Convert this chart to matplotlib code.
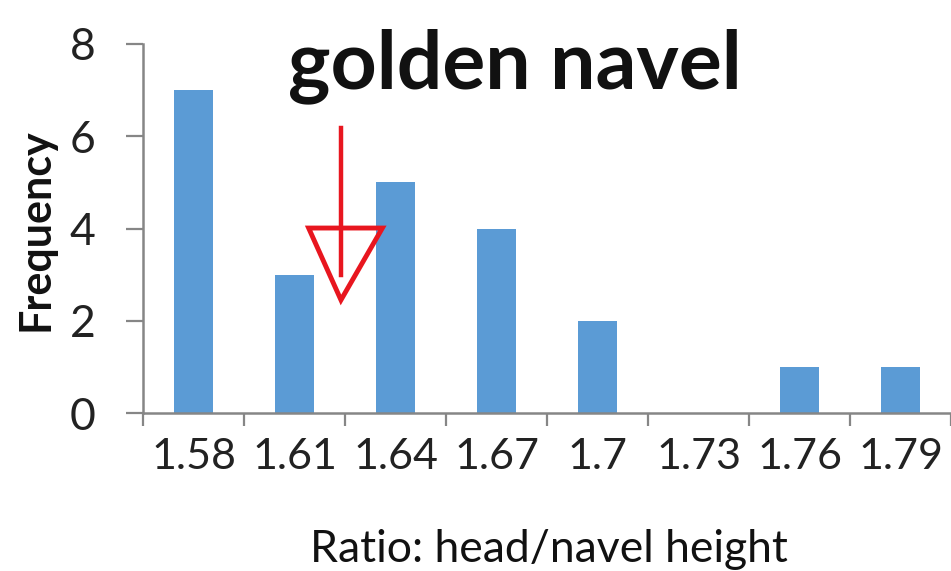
import matplotlib
matplotlib.use("Agg")
import matplotlib.pyplot as plt
from matplotlib.patches import Polygon
import numpy as np

categories = ["1.58", "1.61", "1.64", "1.67", "1.7", "1.73", "1.76", "1.79"]
frequency = [7, 3, 5, 4, 2, 0, 1, 1]
y_ticks = [0, 2, 4, 6, 8]

W, H = 951, 571
fig = plt.figure(figsize=(W / 100, H / 100), dpi=100)
plt.rcParams['font.family'] = ['Lato', 'DejaVu Sans']

left, right, bottom, top = 143 / W, 1.0, 1 - 413 / H, 1 - 44 / H
ax = fig.add_axes([left, bottom, right - left, top - bottom])
slot = 102
x = np.arange(len(categories))
ax.bar(x, frequency, width=0.39, color="#5B9BD5", zorder=2)
ax.set_xlim(-0.5, -0.5 + (W - 143) / slot)
ax.set_ylim(0, 8)

for s in ["top", "right"]:
    ax.spines[s].set_visible(False)
for s in ["left", "bottom"]:
    ax.spines[s].set_color("#868686")
    ax.spines[s].set_linewidth(1.8)

ax.set_yticks(y_ticks)
ax.set_yticklabels([str(v) for v in y_ticks])
ax.tick_params(axis="y", length=12, width=1.6, color="#868686", pad=22,
               labelsize=32, labelcolor="#222222")
ax.set_xticks(x)
ax.set_xticklabels(categories)
ax.set_xticks(np.arange(len(categories) + 1) - 0.5, minor=True)
ax.tick_params(axis="x", which="major", length=0, pad=18, labelsize=31,
               labelcolor="#222222")
ax.tick_params(axis="x", which="minor", length=9, width=1.6, color="#868686")

fig.text(36 / W, 1 - 230 / H, "Frequency", rotation=90, ha="center", va="center",
         fontsize=31, fontweight="bold", color="#111111")
fig.text(549 / W, 1 - 549 / H, "Ratio: head/navel height", ha="center", va="center",
         fontsize=32, color="#111111")
fig.text(515 / W, 1 - 66 / H, "golden navel", ha="center", va="center",
         fontsize=58, fontweight="bold", color="#111111")

# red arrow annotation (hollow triangular head)
ax.plot([1.46, 1.46], [6.18, 3.0], color="#E8161F", lw=3.2, zorder=4)
ax.add_patch(Polygon([[1.14, 4.01], [1.87, 4.01], [1.46, 2.45]], closed=True,
                     fill=False, edgecolor="#E8161F", lw=3.5, zorder=4))

fig.savefig("out.png", dpi=100)
